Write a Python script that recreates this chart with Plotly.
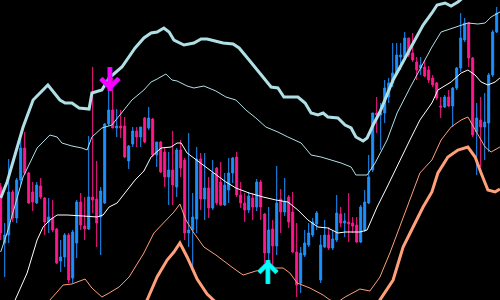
import plotly.graph_objects as go

# Candles (index 0..124)
opens = [113,57,65,108,82,120,152,127,108,97,114,102,78,82,71,39,43,65,22,57,
         98,74,71,103,101,83,97,176,190,172,174,174,139,156,169,163,182,172,181,145,
         158,148,123,130,113,150,140,67,70,81,141,101,112,92,132,118,95,110,127,143,
         105,97,90,102,93,118,86,47,71,54,101,88,103,88,48,17,45,55,65,76,
         20,53,65,52,60,86,77,78,77,75,58,70,97,130,187,185,187,203,217,227,
         243,243,262,247,238,232,233,230,222,217,194,193,203,194,212,232,260,277,242,168,
         180,173,177,225,268]
highs = [117,77,141,110,122,168,168,128,118,118,122,103,102,100,72,60,67,67,70,100,
         107,103,164,233,139,113,177,222,222,191,190,183,155,173,173,173,183,193,182,158,
         159,152,148,169,152,160,142,167,107,153,147,147,123,140,133,138,127,142,143,148,
         118,107,108,107,121,120,87,93,80,134,111,122,105,108,77,53,70,77,82,89,
         65,80,73,70,105,93,87,107,83,83,95,110,145,187,203,197,220,222,257,257,
         257,268,262,267,243,243,240,234,225,218,203,205,210,213,233,287,282,278,243,197,
         203,207,227,270,293]
lows = [60,23,57,78,77,115,125,96,89,96,101,65,67,68,36,28,33,17,17,42,
        70,60,70,87,53,45,96,174,172,163,162,142,131,153,153,153,157,170,143,133,
        127,113,95,95,103,123,60,53,33,67,90,80,82,90,95,94,94,97,117,103,
        92,78,87,80,89,80,37,33,33,45,67,84,72,47,3,7,43,53,63,70,
        17,52,50,50,58,73,63,58,67,57,57,68,96,128,167,150,177,197,213,225,
        230,242,243,238,220,225,223,217,213,200,182,192,193,173,210,228,258,233,163,125,
        133,140,148,223,267]
closes = [67,65,108,82,120,152,127,97,98,115,103,78,83,70,37,43,65,20,68,98,
          75,71,103,100,77,109,176,190,172,174,172,143,154,169,163,173,158,182,145,158,
          128,123,130,115,150,132,67,70,83,141,101,112,92,127,97,95,115,127,142,105,
          97,90,104,93,118,93,47,70,54,97,88,98,78,48,15,47,57,67,78,87,
          55,65,52,61,87,77,79,76,74,58,93,98,123,187,185,187,212,217,227,245,
          245,262,245,240,230,235,224,220,215,202,193,203,194,212,232,262,277,242,165,182,
          173,178,225,268,287]
idx = list(range(len(opens)))

# Bands: sample index, value
up_outer_x = [0,1.6,5.6,8.1,11.8,14.8,16.1,17.8,19.6,22.1,22.8,25.3,27.1,30.3,33.6,35.8,37.6,39.1,40.8,42.1,
              43.3,45.8,48.3,50.1,51.6,53.8,55.6,58.1,59.6,62.1,64.6,66.3,67.6,69.3,70.8,74.3,76.1,77.6,79.3,80.6,
              81.8,84.3,86.1,87.6,88.8,90.6,91.6,93.1,94.8,98.1,102.3,105.6,107.8,109.1,111.1,112.6,114.3,117.3,124.8]
up_outer_y = [102,118,173,200,215,200,197,197,192,191,207,210,222,233,252,262,267,268,272,268,
              260,255,257,261,261,259,257,256,252,240,228,220,213,212,203,203,197,187,185,187,
              183,182,175,172,163,159,162,175,188,220,250,275,287,295,297,294,298,308,315]

up_inner_x = [0,1.6,5.6,9.1,12.3,14.1,15.3,17.8,20.3,21.6,22.8,25.3,27.8,30.3,32.8,35.8,37.6,39.1,41.3,42.8,
              44.1,46.6,48.3,50.8,53.8,56.3,58.8,61.3,63.8,66.3,69.3,71.8,75.1,77.6,80.1,82.6,85.1,87.6,88.8,91.6,
              93.6,96.6,99.1,102.3,104.8,107.8,110.1,113.6,116.8,119.3,121.1,122.6,124.8]
up_inner_y = [48,67,123,152,165,163,157,154,152,150,163,172,175,187,200,210,218,221,226,220,
              219,214,212,214,209,203,200,190,182,173,168,163,157,145,143,140,137,133,125,125,
              137,160,187,212,230,253,268,273,277,276,277,283,288]

mid_x = [0,3.6,6.6,9.1,10.6,12.3,14.1,16.6,20.6,24.1,25.6,27.1,29.1,30.3,33.6,35.8,37.6,40.1,42.6,44.1,
         45.1,46.6,48.3,50.8,53.8,56.3,58.8,62.1,65.6,68.8,71.8,74.3,76.8,79.3,81.8,84.3,86.1,89.8,91.6,94.1,
         96.6,99.8,102.3,104.8,107.8,109.3,112.6,115.1,116.8,118.6,120.1,121.8,123.6,124.8]
mid_y = [-35,0,27,60,73,80,85,85,84,83,85,93,97,103,120,129,143,152,153,157,
         157,147,142,135,126,118,112,107,103,100,98,90,80,73,72,67,68,68,70,93,
         113,140,160,180,197,210,218,227,230,225,218,215,218,222]

lo_inner_x = [9.8,12.3,14.1,15.6,17.8,21.1,22.8,25.3,27.1,29.6,32.1,33.6,35.8,38.3,40.8,43.3,44.8,46.3,48.3,50.8,
              53.8,56.3,58.1,60.6,62.3,63.8,67.3,70.6,72.3,74.1,77.3,80.6,82.3,84.3,86.1,88.6,89.8,92.3,94.8,97.3,
              99.8,102.3,104.8,107.8,110.1,112.6,115.1,116.8,118.6,121.1,122.6,124.8]
lo_inner_y = [-20,0,8,15,16,21,12,3,7,13,23,33,47,67,77,88,96,80,67,53,
              45,37,32,25,27,29,32,32,27,17,12,5,0,-2,3,8,11,9,23,47,
              73,100,127,140,160,173,180,183,170,153,148,153]

lo_outer_x = [32.3,36.6,39.1,41.6,43.3,44.8,46.6,49.1,51.6,53.8,59.8,74.8,88.6,93.6,94.8,98.1,100.6,103.1,105.6,107.8,
              109.3,111.8,114.3,116.8,118.6,120.1,121.8,123.6,124.8]
lo_outer_y = [-30,0,23,40,48,57,43,21,6,-2,-25,-40,-30,-10,0,20,53,73,93,108,
              127,143,150,153,143,127,110,108,111]

# Signal arrows (tip position)
sell_x = [27.3]
sell_y = [212]
buy_x = [66.8]
buy_y = [37]

BLUE = "#1E90FF"
PINK = "#FF1A8C"
LBLUE = "#B0E0E6"
SALMON = "#FFA07A"

fig = go.Figure()
fig.add_trace(go.Scatter(x=up_outer_x, y=up_outer_y, mode="lines", line=dict(color=LBLUE, width=3)))
fig.add_trace(go.Scatter(x=up_inner_x, y=up_inner_y, mode="lines", line=dict(color=LBLUE, width=1)))
fig.add_trace(go.Scatter(x=mid_x, y=mid_y, mode="lines", line=dict(color="white", width=1)))
fig.add_trace(go.Scatter(x=lo_inner_x, y=lo_inner_y, mode="lines", line=dict(color=SALMON, width=1)))
fig.add_trace(go.Scatter(x=lo_outer_x, y=lo_outer_y, mode="lines", line=dict(color=SALMON, width=3)))
fig.add_trace(go.Candlestick(
    x=idx, open=opens, high=highs, low=lows, close=closes,
    increasing=dict(line=dict(color=BLUE, width=1), fillcolor=BLUE),
    decreasing=dict(line=dict(color=PINK, width=1), fillcolor=PINK),
    whiskerwidth=0, hoverinfo="skip"))


def arrow(xs, ys, up, color, edge):
    # chevron arms + stem built from marker glyphs around the tip
    s = 1 if up else -1
    ax_l = [x - 1.0 for x in xs]
    ax_r = [x + 1.0 for x in xs]
    ay = [y - s * 4.5 for y in ys]
    sy = [y - s * 9 for y in ys]
    sym_l = "line-ne" if up else "line-nw"
    sym_r = "line-nw" if up else "line-ne"
    for col, w in ((edge, 5), (color, 3.5)):
        fig.add_trace(go.Scatter(x=xs, y=sy, mode="markers",
                                 marker=dict(symbol="line-ns", size=17, color=col,
                                             line=dict(color=col, width=w))))
        fig.add_trace(go.Scatter(x=ax_l, y=ay, mode="markers",
                                 marker=dict(symbol=sym_l, size=10, color=col,
                                             line=dict(color=col, width=w))))
        fig.add_trace(go.Scatter(x=ax_r, y=ay, mode="markers",
                                 marker=dict(symbol=sym_r, size=10, color=col,
                                             line=dict(color=col, width=w))))


arrow(sell_x, sell_y, False, "#FF00FF", "#9A1AFF")
arrow(buy_x, buy_y, True, "#00FFFF", "#14B8B0")

fig.update_layout(
    width=500, height=300, margin=dict(l=0, r=0, t=0, b=0),
    paper_bgcolor="black", plot_bgcolor="black", showlegend=False,
    xaxis=dict(range=[-0.175, 124.825], visible=False, rangeslider=dict(visible=False), fixedrange=True),
    yaxis=dict(range=[0, 300], visible=False, fixedrange=True),
)
fig.write_html("out.html")
